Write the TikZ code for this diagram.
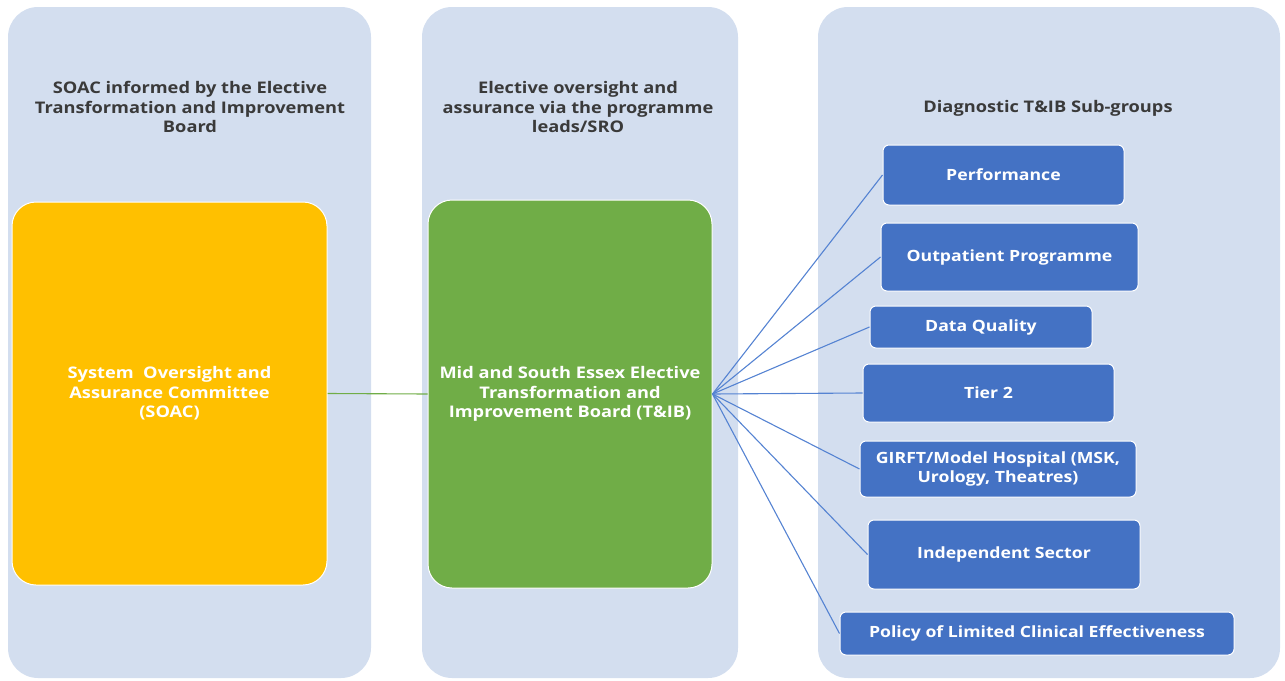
\documentclass[tikz,border=0pt]{standalone}
\usepackage{fontspec}
\setmainfont{Open Sans}[FakeStretch=1.14]
\definecolor{panelbg}{HTML}{D3DEEF}
\definecolor{soacorange}{HTML}{FFC000}
\definecolor{tibgreen}{HTML}{70AD47}
\definecolor{subblue}{HTML}{4472C4}
\definecolor{linkblue}{HTML}{5583D2}
\definecolor{headgrey}{HTML}{3A3A3A}

\begin{document}
\begin{tikzpicture}[x=1pt,y=-1pt,
    panel/.style={fill=panelbg,rounded corners=30pt,inner sep=0pt},
    bigbox/.style={draw=white,line width=1pt,rounded corners=24pt,text=white,align=center,inner sep=2pt,font=\fontsize{16}{19.5}\selectfont\bfseries},
    subgroup/.style={fill=subblue,draw=white,line width=1pt,rounded corners=6pt,text=white,align=center,inner sep=2pt,font=\fontsize{15.5}{19}\selectfont\bfseries},
    heading/.style={text=headgrey,align=center,font=\fontsize{16}{19.5}\selectfont\bfseries},
    subline/.style={draw=linkblue,line width=1.1pt}]
        \useasboundingbox (0,0) rectangle (1285,680);
        \node[panel,minimum width=363pt,minimum height=671pt] (paneA) at (189.5,342.5) {};
        \node[panel,minimum width=316pt,minimum height=671pt] (paneB) at (580,342.5) {};
        \node[panel,minimum width=462pt,minimum height=671pt] (paneC) at (1049,342.5) {};
        \node[heading] (headA) at (190,107) {SOAC informed by the Elective\\Transformation and Improvement\\Board};
        \node[heading] (headB) at (578,107) {Elective oversight and\\assurance via the programme\\leads/SRO};
        \node[heading] (headC) at (1048,108) {Diagnostic T\&IB Sub-groups};
        \node[bigbox,fill=soacorange,minimum width=315pt,minimum height=383pt] (soac) at (169.5,393.5) {System\ \ Oversight and\\Assurance Committee\\(SOAC)};
        \node[bigbox,fill=tibgreen,minimum width=284pt,minimum height=388pt] (tib) at (570,394) {Mid and South Essex Elective\\Transformation and\\Improvement Board (T\&IB)};
        \node[subgroup,minimum width=241pt,minimum height=60pt] (perf) at (1003.5,175) {Performance};
        \node[subgroup,minimum width=257pt,minimum height=68pt] (outp) at (1009.5,257) {Outpatient Programme};
        \node[subgroup,minimum width=222pt,minimum height=42pt] (dq) at (981,327) {Data Quality};
        \node[subgroup,minimum width=251pt,minimum height=58pt] (tier) at (988.5,393) {Tier 2};
        \node[subgroup,minimum width=276pt,minimum height=56pt] (girft) at (998,469) {GIRFT/Model Hospital (MSK,\\Urology, Theatres)};
        \node[subgroup,minimum width=272pt,minimum height=69pt] (indep) at (1004,554.5) {Independent Sector};
        \node[subgroup,minimum width=394pt,minimum height=43pt] (plce) at (1037,633.5) {Policy of Limited Clinical Effectiveness};
        \draw[tibgreen,line width=1.1pt] (soac.east) -- (tib.west);
        \foreach \sub in {perf,outp,dq,tier,girft,indep,plce}
            \draw[subline] (tib.east) -- (\sub.west);
      \end{tikzpicture}
\end{document}
